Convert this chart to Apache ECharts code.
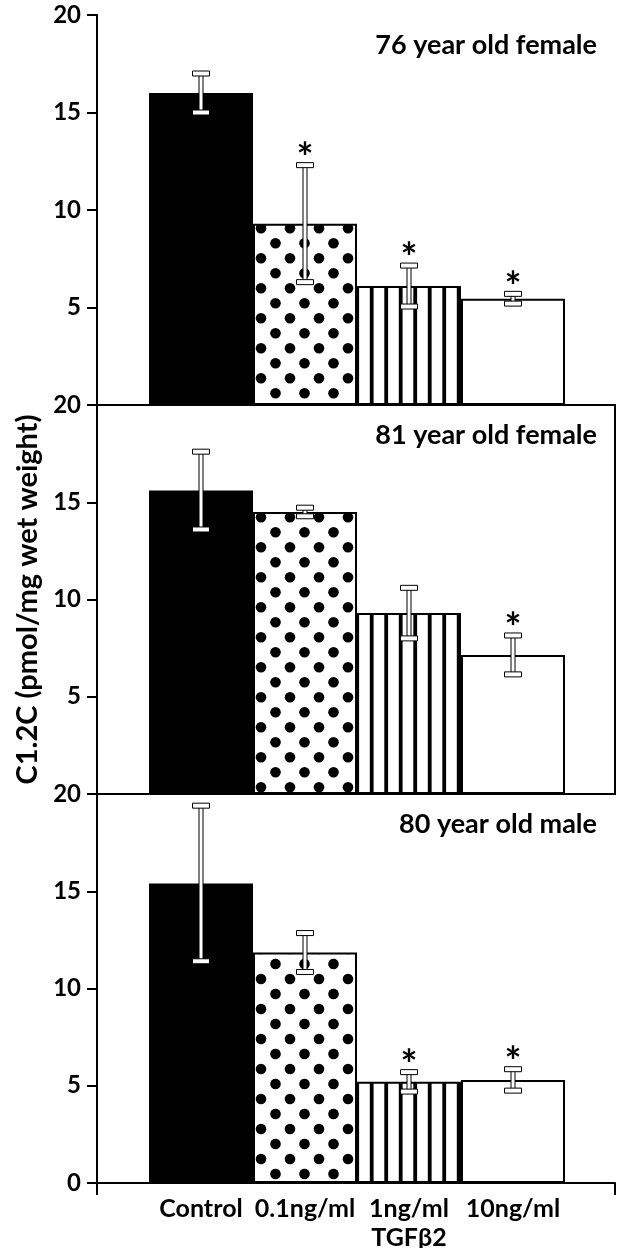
<!DOCTYPE html>
<html><head><meta charset="utf-8">
<script src="https://cdn.jsdelivr.net/npm/echarts@6/dist/echarts.min.js"></script>
<style>html,body{margin:0;padding:0;background:#fff}#c{width:619px;height:1248px}</style>
</head><body><div id="c"></div>
<script>
// ---- data ----
const categories = ['Control', '0.1ng/ml', '1ng/ml', '10ng/ml'];
const groupLabel = 'TGFβ2';
const panelTitles = ['76 year old female', '81 year old female', '80 year old male'];
const yAxisTitle = 'C1.2C (pmol/mg wet weight)';
const yTickValues = [0, 5, 10, 15, 20];

const means76 = [16.0, 9.3, 6.1, 5.45];
const errs76  = [1.0, 3.0, 1.05, 0.25];
const stars76 = [0, 1, 1, 1];

const means81 = [15.6, 14.5, 9.3, 7.15];
const errs81  = [2.0, 0.22, 1.3, 1.0];
const stars81 = [0, 0, 0, 1];

const means80 = [15.4, 11.85, 5.2, 5.3];
const errs80  = [4.0, 1.0, 0.5, 0.55];
const stars80 = [0, 0, 1, 1];

const panels = [
  {means: means76, errs: errs76, stars: stars76},
  {means: means81, errs: errs81, stars: stars81},
  {means: means80, errs: errs80, stars: stars80}
];

// ---- styling ----
const FONT = 'Lato';
const panelTop = [15, 405, 794];
const panelHeight = [390, 389, 389];
const gridLeft = 97, gridWidth = 518, unitPx = 104;
const xMax = gridWidth / unitPx;

function dotPattern(phaseY) {
  const c = document.createElement('canvas');
  c.width = 29; c.height = 30;
  const ctx = c.getContext('2d');
  ctx.fillStyle = '#fff'; ctx.fillRect(0, 0, 29, 30);
  ctx.fillStyle = '#000';
  const pts = [[0, phaseY], [14.5, phaseY + 15]];
  pts.forEach(([px, py]) => {
    for (let dx = -29; dx <= 29; dx += 29) for (let dy = -30; dy <= 30; dy += 30) {
      ctx.beginPath(); ctx.arc(px + dx, (py % 30) + dy, 5.3, 0, Math.PI * 2); ctx.fill();
    }
  });
  return {image: c, repeat: 'repeat'};
}
function stripePattern() {
  const c = document.createElement('canvas');
  c.width = 29; c.height = 4;
  const ctx = c.getContext('2d');
  ctx.fillStyle = '#fff'; ctx.fillRect(0, 0, 29, 4);
  ctx.fillStyle = '#000';
  ctx.fillRect(9.2 - 1.9, 0, 3.8, 4);
  ctx.fillRect(23.7 - 1.9, 0, 3.8, 4);
  return {image: c, repeat: 'repeat'};
}
const dotPhase = [18.3, 7.3, 19];
const stripes = stripePattern();

function renderErr(params, api) {
  const x = api.value(0), m = api.value(1), e = api.value(2), s = api.value(3);
  const top = api.coord([x, m + e]);
  const bot = api.coord([x, m - e]);
  const cx = top[0];
  const capW = 17, capH = 5, stemW = 4;
  const st = {fill: '#fff', stroke: '#000', lineWidth: 1};
  const children = [
    {type: 'rect', shape: {x: cx - stemW / 2, y: top[1], width: stemW, height: bot[1] - top[1]}, style: st},
    {type: 'rect', shape: {x: cx - capW / 2, y: top[1] - capH / 2, width: capW, height: capH}, style: st},
    {type: 'rect', shape: {x: cx - capW / 2, y: bot[1] - capH / 2, width: capW, height: capH}, style: st}
  ];
  if (s) children.push({type: 'text', style: {text: '*', x: cx, y: top[1] - 6, align: 'center', verticalAlign: 'middle', font: 'bold 40px ' + FONT, fill: '#000'}});
  return {type: 'group', children};
}

const axisLine = {show: true, lineStyle: {color: '#000', width: 2}};
const grid = [], xAxis = [], yAxis = [], series = [], title = [];

panels.forEach((p, i) => {
  grid.push({left: gridLeft, width: gridWidth, top: panelTop[i], height: panelHeight[i],
    containLabel: false, outerBoundsMode: 'none'});
  title.push({text: panelTitles[i], right: 17, top: panelTop[i] + 12,
    textStyle: {fontSize: 27, fontWeight: 'bold', fontFamily: FONT, color: '#000'}});
  const last = i === 2;
  xAxis.push({
    gridIndex: i, type: 'value', min: 0, max: xMax, interval: 1,
    axisLine, splitLine: {show: false},
    axisTick: last ? {show: true, customValues: [0, xMax], length: 12, lineStyle: {color: '#000', width: 2}} : {show: false},
    axisLabel: last ? {
      show: true, customValues: [1, 2, 3, 4], margin: 11,
      fontSize: 25, fontWeight: 'bold', fontFamily: FONT, color: '#000', lineHeight: 29,
      formatter: v => {
        const k = Math.round(v) - 1;
        if (k < 0 || k >= categories.length) return '';
        return k === 2 ? categories[k] + '\n' + groupLabel : categories[k];
      }
    } : {show: false}
  });
  yAxis.push({
    gridIndex: i, type: 'value', min: 0, max: 20, interval: 5,
    axisLine, splitLine: {show: false},
    axisTick: {show: true, length: 10, lineStyle: {color: '#000', width: 2}},
    axisLabel: {fontSize: 24, fontWeight: 'bold', fontFamily: FONT, color: '#000', margin: 16,
      formatter: v => (!last && v === 0) ? '' : (yTickValues.includes(v) ? String(v) : '')},
    name: i === 1 ? yAxisTitle : '', nameLocation: 'middle', nameGap: 54,
    nameTextStyle: {fontSize: 29, fontWeight: 'bold', fontFamily: FONT, color: '#000'}
  });
  const fills = ['#000', dotPattern(dotPhase[i]), stripes, '#fff'];
  series.push({
    type: 'bar', xAxisIndex: i, yAxisIndex: i, barWidth: unitPx,
    itemStyle: {borderColor: '#000', borderWidth: 2},
    data: p.means.map((v, k) => ({value: [k + 1, v], itemStyle: {color: fills[k]}})),
    silent: true, animation: false
  });
  series.push({
    type: 'custom', xAxisIndex: i, yAxisIndex: i, renderItem: renderErr,
    data: p.means.map((v, k) => [k + 1, v, p.errs[k], p.stars[k]]),
    z: 5, silent: true, animation: false
  });
});
// frame lines: top of first panel, right side of first two panels
xAxis.push({gridIndex: 0, type: 'value', position: 'top', min: 0, max: xMax, axisLine,
  axisTick: {show: false}, axisLabel: {show: false}, splitLine: {show: false}});
[0, 1].forEach(i => yAxis.push({gridIndex: i, type: 'value', position: 'right', min: 0, max: 20, axisLine,
  axisTick: {show: false}, axisLabel: {show: false}, splitLine: {show: false}}));

const chart = echarts.init(document.getElementById('c'), null, {renderer: 'canvas'});
chart.setOption({animation: false, backgroundColor: '#fff', title, grid, xAxis, yAxis, series});
</script></body></html>
